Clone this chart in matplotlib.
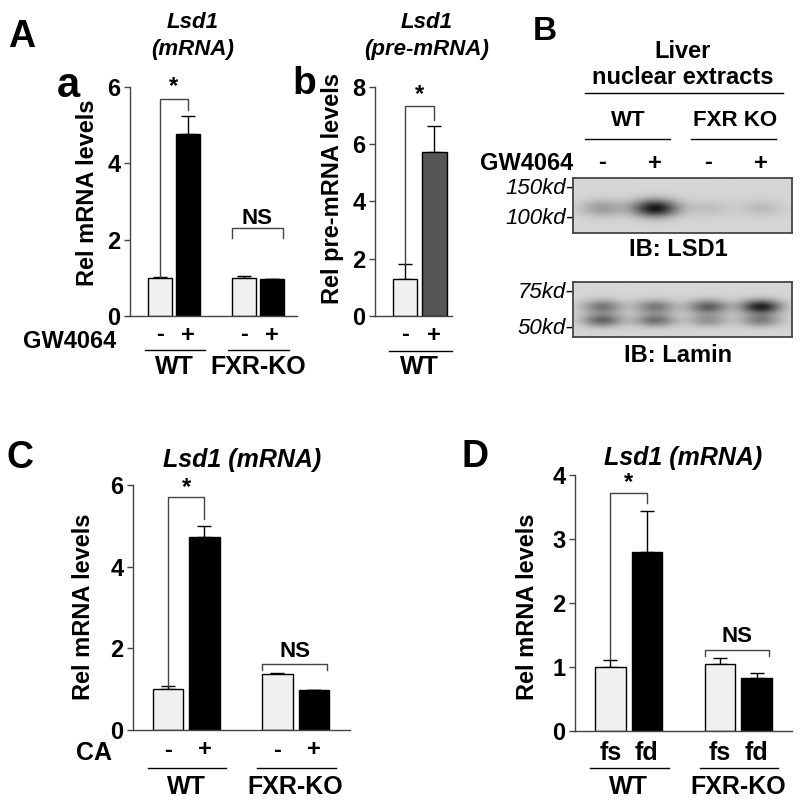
import numpy as np
import matplotlib
matplotlib.use('Agg')
import matplotlib.pyplot as plt
from matplotlib.transforms import blended_transform_factory

plt.rcParams['font.family'] = ['Liberation Sans', 'DejaVu Sans']
plt.rcParams['font.weight'] = 'bold'

# ---- data ----
groups = ['WT', 'FXR-KO']
gw_signs = ['-', '+', '-', '+']
diet_labels = ['fs', 'fd', 'fs', 'fd']

aa_vals = [1.0, 4.77, 1.0, 0.96]
aa_errs = [0.02, 0.48, 0.05, 0.02]

ab_vals = [1.31, 5.72]
ab_errs = [0.52, 0.93]

c_vals = [1.0, 4.73, 1.36, 0.98]
c_errs = [0.08, 0.27, 0.03, 0.01]

d_vals = [1.0, 2.79, 1.04, 0.83]
d_errs = [0.11, 0.64, 0.10, 0.07]

blot_lanes = ['-', '+', '-', '+']
blot_groups = ['WT', 'FXR KO']
lsd1_band = [0.30, 1.0, 0.12, 0.14]
lamin_upper = [0.50, 0.48, 0.62, 0.95]
lamin_lower = [0.58, 0.52, 0.35, 0.45]

LIGHT = '#f0f0f0'
W, H = 800, 806
fig = plt.figure(figsize=(8, 8.06), dpi=100)


def fx(x):
    return x / W


def fy(y):
    return 1 - y / H


def add_ax(x0, y0, x1, y1):
    return fig.add_axes([fx(x0), fy(y1), (x1 - x0) / W, (y1 - y0) / H])


def ftext(x, y, s, size, ha='center', **kw):
    fig.text(fx(x), fy(y), s, fontsize=size, ha=ha, va='center', **kw)


def bar_panel(ax, pos, vals, errs, colors, ymax, yticks, xlim, width):
    ax.bar(pos, vals, width, color=colors, edgecolor='black', linewidth=1, zorder=2)
    ax.errorbar(pos, vals, yerr=[np.zeros(len(errs)), errs], fmt='none',
                ecolor='black', elinewidth=1, capsize=5, capthick=1, zorder=1)
    ax.set_xlim(*xlim)
    ax.set_ylim(0, ymax)
    ax.set_yticks(yticks)
    ax.set_xticks([])
    ax.spines['top'].set_visible(False)
    ax.spines['right'].set_visible(False)
    for s in ['left', 'bottom']:
        ax.spines[s].set_color('#444444')
        ax.spines[s].set_linewidth(1)
    ax.tick_params(axis='y', length=4, width=1, pad=3, labelsize=17, colors='#444444',
                   labelcolor='black')
    for lab in ax.get_yticklabels():
        lab.set_fontweight('bold')
    ax.patch.set_alpha(0)


def under_labels(ax, pos, labels, group_names, y_sign, y_line, y_group, size=17):
    trans = blended_transform_factory(ax.transData, fig.transFigure)
    for p, s in zip(pos, labels):
        ax.text(p, fy(y_sign), s, transform=trans, ha='center', va='center', fontsize=size)
    for i, g in enumerate(group_names):
        a, b = pos[2 * i], pos[2 * i + 1]
        ax.plot([a - 0.55, b + 0.6], [fy(y_line)] * 2, transform=trans, color='black',
                lw=1, clip_on=False)
        ax.text((a + b) / 2, fy(y_group), g, transform=trans, ha='center', va='center',
                fontsize=18)


def sig_bracket(ax, x0, x1, start, top, right_end, star_y):
    ax.plot([x0, x0, x1, x1], [start, top, top, right_end], color='#444444', lw=1,
            clip_on=False)
    ax.text((x0 + x1) / 2, star_y, '*', ha='center', va='center', fontsize=17)


def ns_bracket(ax, x0, x1, y, drop, text_y):
    ax.plot([x0, x0, x1, x1], [y - drop, y, y, y - drop], color='#444444', lw=1,
            clip_on=False)
    ax.text((x0 + x1) / 2, text_y, 'NS', ha='center', va='center', fontsize=16)


pos4 = [0, 1, 3, 4]
cols4 = [LIGHT, 'black', LIGHT, 'black']

# ---- panel A a ----
ax = add_ax(130, 87, 297, 316)
bar_panel(ax, pos4, aa_vals, aa_errs, cols4, 6, [0, 2, 4, 6], (-1.07, 4.9), 0.86)
sig_bracket(ax, 0, 1, aa_vals[0] + aa_errs[0], 5.68, 5.4, 6.0)
ns_bracket(ax, 2.57, 4.4, 2.3, 0.25, 2.55)
under_labels(ax, pos4, gw_signs, groups, 335, 350, 367)
ftext(116, 341, 'GW4064', 17, ha='right')
ftext(88, 193, 'Rel mRNA levels', 17, rotation=90)
ftext(193, 22, 'Lsd1', 16, style='italic')
ftext(193, 50, '(mRNA)', 16, style='italic')
ftext(8, 37, 'A', 27, ha='left')
ftext(57, 86, 'a', 30, ha='left')

# ---- panel A b ----
ax = add_ax(375, 87, 452, 316)
bar_panel(ax, [0, 1], ab_vals, ab_errs, [LIGHT, '#555555'], 8, [0, 2, 4, 6, 8],
          (-1.02, 1.6), 0.83)
sig_bracket(ax, 0, 1, ab_vals[0] + ab_errs[0], 7.33, 6.86, 7.75)
under_labels(ax, [0, 1], gw_signs[:2], ['WT'], 335, 351, 367)
ftext(332, 188, 'Rel pre-mRNA levels', 17, rotation=90)
ftext(427, 22, 'Lsd1', 16, style='italic')
ftext(427, 50, '(pre-mRNA)', 16, style='italic')
ftext(292, 84, 'b', 28, ha='left')

# ---- panel B (blots) ----
ftext(533, 32, 'B', 24, ha='left')
ftext(683, 52, 'Liver', 17)
ftext(683, 78, 'nuclear extracts', 17)
fig.add_artist(plt.Line2D([fx(585), fx(783)], [fy(93)] * 2, color='black', lw=1))
ftext(480, 163, 'GW4064', 17, ha='left')


def blot(y0, y1, bands):
    bax = add_ax(573, y0, 792, y1)
    nx, ny = 220, 56
    xs = np.linspace(-0.55, 3.58, nx)
    ys = np.linspace(0, 1, ny)
    X, Y = np.meshgrid(xs, ys)
    img = np.full_like(X, 0.84)
    for yc, sy, sx, amps in bands:
        for lane, amp in enumerate(amps):
            img -= 0.75 * amp * np.exp(-((X - lane) / sx) ** 2 - ((Y - yc) / sy) ** 2)
    bax.imshow(np.clip(img, 0, 1), cmap='gray', vmin=0, vmax=1, aspect='auto',
               extent=(-0.55, 3.58, 1, 0), interpolation='bilinear')
    bax.set_xticks([])
    bax.set_yticks([])
    for s in bax.spines.values():
        s.set_color('#444444')
        s.set_linewidth(1.3)
    return bax


bax = blot(178, 233, [(0.55, 0.16, 0.42, lsd1_band)])
trans = blended_transform_factory(bax.transData, fig.transFigure)
for i, s in enumerate(blot_lanes):
    bax.text(i, fy(163), s, transform=trans, ha='center', va='center', fontsize=17)
for i, g in enumerate(blot_groups):
    bax.text(2 * i + 0.5, fy(120), g, transform=trans, ha='center', va='center',
             fontsize=16)
    bax.plot([2 * i - 0.32, 2 * i + 1.27], [fy(139)] * 2, transform=trans,
             color='black', lw=1, clip_on=False)
ftext(573, 188, '150kd-', 16, ha='right', style='italic', weight='normal')
ftext(573, 218, '100kd-', 16, ha='right', style='italic', weight='normal')
ftext(678, 250, 'IB: LSD1', 17)

blot(282, 337, [(0.45, 0.13, 0.38, lamin_upper), (0.7, 0.12, 0.38, lamin_lower)])
ftext(573, 292, '75kd-', 16, ha='right', style='italic', weight='normal')
ftext(573, 328, '50kd-', 16, ha='right', style='italic', weight='normal')
ftext(678, 355, 'IB: Lamin', 17)

# ---- panel C ----
ax = add_ax(133, 485, 350, 730)
bar_panel(ax, pos4, c_vals, c_errs, cols4, 6, [0, 2, 4, 6], (-0.96, 4.99), 0.83)
sig_bracket(ax, 0, 1, c_vals[0] + c_errs[0], 5.71, 5.17, 5.95)
ns_bracket(ax, 2.59, 4.35, 1.62, 0.15, 1.92)
under_labels(ax, pos4, gw_signs, groups, 750, 768, 787)
ftext(112, 753, 'CA', 18, ha='right')
ftext(83, 607, 'Rel mRNA levels', 17, rotation=90)
ftext(242, 460, 'Lsd1 (mRNA)', 18, style='italic')
ftext(7, 458, 'C', 27, ha='left')

# ---- panel D ----
ax = add_ax(575, 475, 792, 731)
bar_panel(ax, pos4, d_vals, d_errs, cols4, 4, [0, 1, 2, 3, 4], (-0.97, 4.97), 0.83)
sig_bracket(ax, 0, 1, d_vals[0] + d_errs[0], 3.72, 3.56, 3.88)
ns_bracket(ax, 2.59, 4.34, 1.27, 0.1, 1.47)
under_labels(ax, pos4, diet_labels, groups, 753, 768, 787, size=18)
ftext(528, 607, 'Rel mRNA levels', 17, rotation=90)
ftext(683, 458, 'Lsd1 (mRNA)', 18, style='italic')
ftext(462, 457, 'D', 27, ha='left')

fig.savefig('out.png', dpi=100, facecolor='white')
